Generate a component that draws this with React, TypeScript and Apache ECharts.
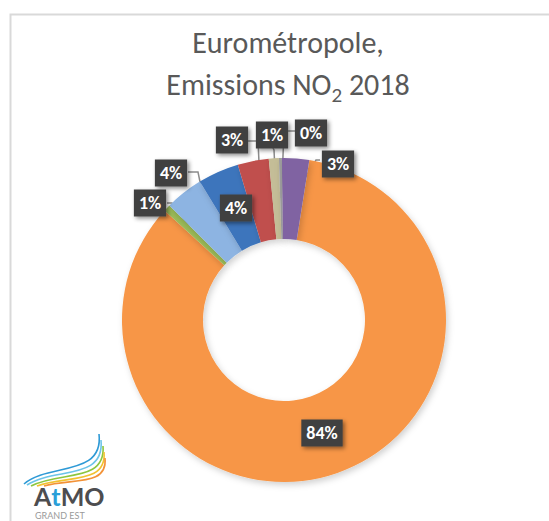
import React, { useEffect, useRef } from "react";
import * as echarts from "echarts";

// ---- data ----
const categories = [
  "Secteur A",
  "Secteur B",
  "Secteur C",
  "Secteur D",
  "Secteur E",
  "Secteur F",
  "Secteur G",
  "Secteur H",
];
const values = [84.3, 0.7, 3.8, 4.1, 3.1, 1.0, 0.3, 2.7];
const colors = ["#F79646", "#9BBB59", "#8DB4E2", "#3E75BC", "#C0504D", "#C4BD97", "#9E9E9E", "#8064A2"];
const titleLine1 = "Eurométropole,";
const titleLine2a = "Emissions NO";
const titleSub = "2";
const titleLine2b = " 2018";

// ---- layout ----
const CX = 284;
const CY = 320;
const R_IN = 81;
const R_OUT = 162;
const START_ANGLE = 81; // echarts degrees
const LINE_R = 122;
// label box centers and line elbows (null = no leader line)
const labelPos: [number, number][] = [
  [322, 433],
  [150, 203],
  [171, 173],
  [236, 208],
  [232, 140],
  [272, 135],
  [311, 133],
  [338, 164],
];
const lineStart: ([number, number] | null)[] = [
  null,
  [167, 203],
  [188, 172],
  null,
  [248, 141],
  [273, 148],
  [295, 131],
  [320, 160],
];
const lineElbow: ([number, number] | null)[] = [
  null,
  [172, 203],
  [198, 172],
  null,
  [258, 141],
  [274, 150],
  [284, 131],
  [316, 160],
];

function midPoint(i: number): [number, number] {
  const total = values.reduce((a, b) => a + b, 0);
  let cum = 0;
  for (let k = 0; k < i; k++) cum += values[k];
  const t0 = 90 - START_ANGLE;
  const t = ((t0 + (360 * (cum + values[i] / 2)) / total) * Math.PI) / 180;
  return [CX + LINE_R * Math.sin(t), CY - LINE_R * Math.cos(t)];
}

export default function App() {
  const ref = useRef<HTMLDivElement>(null);
  useEffect(() => {
    if (!ref.current) return;
    const chart = echarts.init(ref.current, undefined, { renderer: "svg" });
    const font = "Carlito, Lato, 'Open Sans', sans-serif";
    const option: any = {
      animation: false,
      backgroundColor: "#ffffff",
      title: {
        left: 283,
        textAlign: "center",
        top: 16,
        text: `{a|${titleLine1}}\n{a|${titleLine2a}}{s|${titleSub}}{a|${titleLine2b}}`,
        textStyle: {
          fontWeight: "normal",
          rich: {
            a: { fontFamily: font, fontWeight: "normal", fontSize: 30, color: "#595959", lineHeight: 42 },
            s: {
              fontFamily: font,
              fontWeight: "normal",
              fontSize: 21,
              color: "#595959",
              lineHeight: 24,
              verticalAlign: "bottom",
            },
          },
        },
      },
      graphic: [
        {
          type: "rect",
          silent: true,
          shape: { x: 10.5, y: 14.5, width: 700, height: 700 },
          style: { fill: "none", stroke: "#D9D9D9", lineWidth: 2 },
        },
        {
          type: "group",
          silent: true,
          children: [
            { type: "bezierCurve", shape: { x1: 24, y1: 484, cpx1: 48, cpy1: 463, cpx2: 104, cpy2: 477, x2: 99, y2: 434 }, style: { stroke: "#2E9AD6", lineWidth: 1.6, fill: "none" } },
            { type: "bezierCurve", shape: { x1: 27, y1: 485, cpx1: 54, cpy1: 467, cpx2: 105, cpy2: 481, x2: 101, y2: 440 }, style: { stroke: "#6CC4E8", lineWidth: 1.6, fill: "none" } },
            { type: "bezierCurve", shape: { x1: 31, y1: 486, cpx1: 60, cpy1: 471, cpx2: 106, cpy2: 483, x2: 103, y2: 446 }, style: { stroke: "#8CC63F", lineWidth: 1.6, fill: "none" } },
            { type: "bezierCurve", shape: { x1: 37, y1: 486, cpx1: 66, cpy1: 475, cpx2: 107, cpy2: 485, x2: 104, y2: 452 }, style: { stroke: "#F2C230", lineWidth: 1.6, fill: "none" } },
            { type: "bezierCurve", shape: { x1: 44, y1: 486, cpx1: 71, cpy1: 478, cpx2: 108, cpy2: 487, x2: 105, y2: 458 }, style: { stroke: "#F39237", lineWidth: 1.6, fill: "none" } },
            {
              type: "text",
              x: 34,
              y: 484,
              style: {
                text: "{g|A}{b|t}{g|MO}",
                rich: {
                  g: { fontFamily: "Lato, sans-serif", fontWeight: "bold", fontSize: 25, fill: "#4D4D4F", lineHeight: 24 },
                  b: { fontFamily: "Lato, sans-serif", fontWeight: "bold", fontSize: 25, fill: "#2A9FD8", lineHeight: 24 },
                },
              },
            },
            {
              type: "text",
              x: 35,
              y: 511,
              style: { text: "GRAND EST", fontFamily: "Lato, sans-serif", fontSize: 9, fill: "#9A9A9A" },
            },
          ],
        },
      ],
      series: [
        {
          type: "pie",
          center: [CX, CY],
          radius: [R_IN, R_OUT],
          startAngle: START_ANGLE,
          clockwise: true,
          avoidLabelOverlap: false,
          itemStyle: {
            shadowBlur: 6,
            shadowColor: "rgba(0,0,0,0.18)",
            shadowOffsetX: 2,
            shadowOffsetY: 3,
          },
          label: {
            show: true,
            position: "outside",
            formatter: (p: any) => Math.round(p.percent) + "%",
            color: "#ffffff",
            fontFamily: font,
            fontWeight: "bold",
            fontSize: 18,
            lineHeight: 18,
            backgroundColor: "#404040",
            padding: [5, 5, 4, 5],
            shadowBlur: 4,
            shadowColor: "rgba(0,0,0,0.45)",
            shadowOffsetX: 2,
            shadowOffsetY: 2,
          },
          labelLine: {
            show: true,
            lineStyle: { color: "#8C8C8C", width: 1.5 },
          },
          labelLayout: (params: any) => {
            const i = params.dataIndex;
            const [x, y] = labelPos[i];
            const res: any = { x, y, align: "center", verticalAlign: "middle" };
            if (lineStart[i] && lineElbow[i]) {
              res.labelLinePoints = [lineStart[i], lineElbow[i], midPoint(i)];
            }
            return res;
          },
          data: categories.map((name, i) => ({
            name,
            value: values[i],
            itemStyle: { color: colors[i] },
            labelLine: { show: lineStart[i] !== null },
          })),
        },
      ],
    };
    chart.setOption(option);
    return () => chart.dispose();
  }, []);
  return (
    <div
      ref={ref}
      style={{ position: "absolute", left: 0, top: 0, width: 549, height: 521 }}
    />
  );
}
